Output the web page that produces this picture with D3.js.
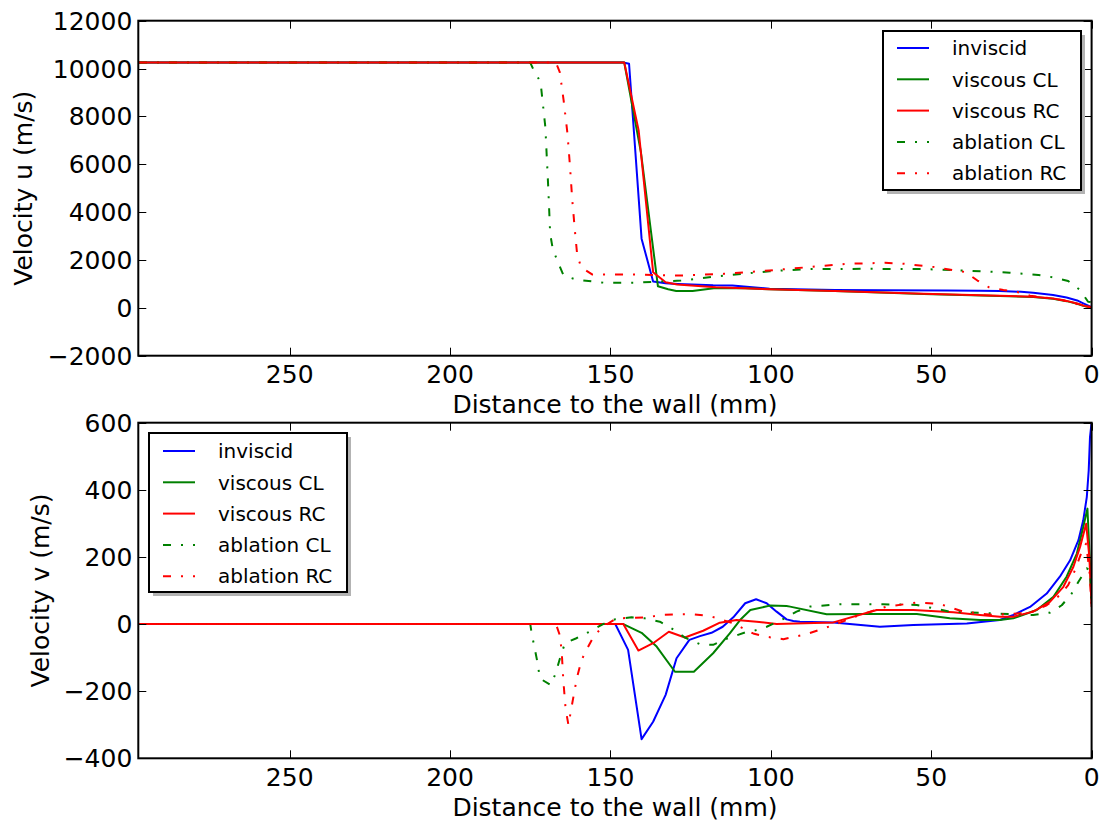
<!DOCTYPE html>
<html><head><meta charset="utf-8">
<script src="https://cdn.jsdelivr.net/npm/d3@7"></script>
<style>body{margin:0;background:#fff}svg{display:block}text{font-family:"DejaVu Sans",sans-serif;fill:#000}</style>
</head><body>
<svg id="c" width="1103" height="821"></svg>
<script>
// ---------- data ----------
const seriesNames = ["inviscid","viscous CL","viscous RC","ablation CL","ablation RC"];
const seriesColors = ["#0000ff","#008000","#ff0000","#008000","#ff0000"];
const seriesDashed = [false,false,false,true,true];
const xTicks = [250,200,150,100,50,0];
const uTicks = [-2000,0,2000,4000,6000,8000,10000,12000];
const vTicks = [-400,-200,0,200,400,600];

// top panel: velocity u (distance mm, m/s)
const uInviscid = [[297,10250],[146,10250],[144.2,10200],[140.3,2890],[136.7,1100],[132.8,1030],[129,1000],[118,940],[112,930],[100.4,800],[80,750],[64.4,735],[45,728],[35,718],[28.6,704],[22,670],[18.2,630],[12,540],[7.8,430],[4.5,310],[2.6,190],[0,30]];
const uViscousCL = [[297,10250],[145.7,10250],[140.5,6500],[135.2,900],[132,780],[129.5,700],[124.4,700],[117.2,830],[108,820],[100.4,780],[80,700],[52.4,580],[28.6,500],[18.2,455],[12,380],[7.8,280],[4.5,170],[2.6,90],[0,0]];
const uViscousRC = [[297,10250],[145.7,10250],[141.2,7400],[136.7,1490],[132.8,1070],[129.2,980],[117.2,860],[100.4,780],[80,700],[52.4,590],[28.6,507],[18.2,466],[12,390],[7.8,290],[4.5,180],[2.6,95],[0,0]];
const uAblationCL = [[297,10250],[175,10250],[173.9,9920],[171.8,9440],[170.3,7550],[169.4,5050],[168.8,3100],[168,2470],[166.4,1910],[164.6,1350],[160.4,1170],[152,1050],[142.4,1050],[128,1140],[117.2,1310],[100.4,1530],[88.4,1620],[70.4,1630],[52.4,1620],[40.4,1560],[28.4,1490],[25.5,1470],[16.6,1373],[12,1276],[7.3,1122],[3.6,746],[1.1,257],[0,240]];
const uAblationRC = [[297,10250],[167,10250],[165.8,9850],[164.6,8670],[163.4,7280],[162.6,5880],[161.9,4490],[161,3100],[160.4,2260],[159.2,1700],[155.6,1390],[142.4,1390],[128,1350],[114.8,1420],[100.4,1560],[88.4,1700],[76.4,1840],[64.4,1880],[58.4,1840],[48.8,1700],[39.2,1490],[35.6,1140],[32,860],[27.5,746],[22.9,650],[19.2,507],[9,330],[3.6,119],[0,30]];

// bottom panel: velocity v (distance mm, m/s)
const vInviscid = [[297,0],[148.5,0],[144.5,-77],[140.3,-343],[136.7,-291],[132.8,-211],[129.4,-102],[125.4,-47],[122.1,-36],[118.5,-26],[115,-8],[111.7,20],[108,62],[104.6,74],[101.3,62],[98.2,37],[95.1,14],[93,9],[90.9,7],[80.5,5],[66,-8],[55.6,-3],[38.9,2],[28.6,12],[24.4,27],[19.2,51],[14,91],[9.9,141],[6.7,190],[4.1,250],[2.6,309],[1.5,378],[0.9,458],[0.5,557],[0,600]];
const vViscousCL = [[297,0],[146,0],[140.3,-26],[135.6,-67],[129.9,-142],[124,-142],[118,-87],[112.8,-28],[109.6,12],[106.4,42],[100.3,55],[95.1,54],[94,52],[82.6,29],[70.1,30],[54.5,30],[44.2,17],[34.8,12],[28.6,12],[24.4,17],[17.1,42],[11.9,81],[7.8,141],[4.6,210],[2.6,289],[1.3,344],[0.6,200],[0,71]];
const vViscousRC = [[297,0],[146,0],[141.3,-79],[136.7,-57],[131.8,-23],[126.8,-40],[121.1,-20],[115.9,4],[110.7,12],[104.4,7],[98.2,0],[80.5,5],[67,42],[55.6,42],[43.1,35],[34.8,27],[28.6,22],[24.4,22],[18.2,37],[13,66],[8.8,111],[5.7,170],[3.6,230],[1.7,299],[0.7,200],[0,51]];
const vAblationCL = [[297,0],[175,0],[174.6,-26],[172.8,-112],[172,-162],[168.6,-182],[167.1,-147],[165.8,-104],[164.2,-57],[160.8,-43],[156.6,-23],[152.3,0],[148.6,14],[143.4,20],[139.3,17],[134.6,7],[130.4,-16],[126.8,-40],[122.1,-60],[118,-62],[113.8,-44],[107.5,-23],[105.5,-21],[101.3,-8],[96.1,15],[92,37],[87.8,52],[78.5,59],[65,59],[54.5,57],[44.2,37],[31.7,32],[18.2,27],[13,34],[9.3,56],[6.2,91],[4.1,126],[1.5,166],[0.5,160],[0,60]];
const vAblationRC = [[297,0],[167,0],[165.8,-33],[165.2,-82],[164.7,-167],[164,-251],[163.1,-301],[162.1,-246],[160.5,-162],[159,-107],[157.2,-72],[155,-33],[152.3,-8],[148.1,17],[138.7,20],[134,27],[129.4,29],[124.2,29],[119,24],[111.7,2],[105.5,-28],[101.3,-38],[96.1,-45],[88.8,-30],[80.5,-3],[72.2,27],[63.9,52],[54.5,64],[47.3,60],[40,37],[30.7,27],[19.2,34],[14,56],[9.9,86],[7.3,116],[5.2,160],[3.1,215],[1.7,240],[0.6,150],[0,50]];

const uSeries = [uInviscid,uViscousCL,uViscousRC,uAblationCL,uAblationRC];
const vSeries = [vInviscid,vViscousCL,vViscousRC,vAblationCL,vAblationRC];

// ---------- drawing ----------
const svg = d3.select("#c");
const L = 138.3, R = 1091.6;
const panels = [
  {series:uSeries, yDom:[-2000,12000], top:20.7, bottom:355.7, yTicks:uTicks, ylabel:"Velocity u (m/s)", ylabX:23,
   legend:{x:883,y:31,w:198,h:159,lineX0:897,lineX1:929,textX:952,row0:48,rowStep:31.3}},
  {series:vSeries, yDom:[-400,600], top:422.7, bottom:758.3, yTicks:vTicks, ylabel:"Velocity v (m/s)", ylabX:40,
   legend:{x:149,y:433,w:198,h:159,lineX0:163,lineX1:195,textX:218,row0:451,rowStep:31.3}}
];
const fmt = v => (v<0 ? "\u2212" + Math.abs(v) : String(v));

panels.forEach((p,pi)=>{
  const x = d3.scaleLinear().domain([297.2,0]).range([L,R]);
  const y = d3.scaleLinear().domain(p.yDom).range([p.bottom,p.top]);
  const g = svg.append("g");
  const cid = "clip"+pi;
  svg.append("defs").append("clipPath").attr("id",cid).append("rect")
    .attr("x",L).attr("y",p.top).attr("width",R-L).attr("height",p.bottom-p.top);
  const line = d3.line().x(d=>x(d[0])).y(d=>y(d[1]));
  const lg = g.append("g").attr("clip-path",`url(#${cid})`);
  p.series.forEach((s,i)=>{
    lg.append("path").attr("d",line(s)).attr("fill","none")
      .attr("stroke",seriesColors[i]).attr("stroke-width",2)
      .attr("stroke-dasharray",seriesDashed[i]?"8,10,2,10":null)
      .attr("stroke-linejoin","round");
  });
  // ticks (inward on all sides)
  const tk = g.append("g").attr("stroke","#000").attr("stroke-width",1);
  xTicks.forEach(t=>{
    const xx = Math.round(x(t))+0.5;
    tk.append("line").attr("x1",xx).attr("x2",xx).attr("y1",p.bottom).attr("y2",p.bottom-8);
    tk.append("line").attr("x1",xx).attr("x2",xx).attr("y1",p.top).attr("y2",p.top+8);
    g.append("text").attr("x",x(t)).attr("y",p.bottom+27.5).attr("text-anchor","middle")
      .style("font-size","25px").text(fmt(t));
  });
  p.yTicks.forEach(t=>{
    const yy = Math.round(y(t))+0.5;
    tk.append("line").attr("x1",L).attr("x2",L+8).attr("y1",yy).attr("y2",yy);
    tk.append("line").attr("x1",R).attr("x2",R-8).attr("y1",yy).attr("y2",yy);
    g.append("text").attr("x",L-6).attr("y",y(t)).attr("dy","0.36em").attr("text-anchor","end")
      .style("font-size","25px").text(fmt(t));
  });
  // frame
  g.append("rect").attr("x",L).attr("y",p.top).attr("width",R-L).attr("height",p.bottom-p.top)
    .attr("fill","none").attr("stroke","#000").attr("stroke-width",2);
  // labels
  g.append("text").attr("x",(L+R)/2).attr("y",p.bottom+57.5).attr("text-anchor","middle")
    .style("font-size","25px").text("Distance to the wall (mm)");
  g.append("text").attr("transform",`translate(${p.ylabX},${(p.top+p.bottom)/2}) rotate(-90)`)
    .attr("text-anchor","middle").attr("dy","0.36em").style("font-size","25px").text(p.ylabel);
  // legend
  const lgd = p.legend;
  g.append("rect").attr("x",lgd.x+4).attr("y",lgd.y+4).attr("width",lgd.w).attr("height",lgd.h).attr("fill","#b3b3b3");
  g.append("rect").attr("x",lgd.x).attr("y",lgd.y).attr("width",lgd.w).attr("height",lgd.h)
    .attr("fill","#fff").attr("stroke","#000").attr("stroke-width",2);
  seriesNames.forEach((n,i)=>{
    const ry = lgd.row0 + i*lgd.rowStep;
    g.append("line").attr("x1",lgd.lineX0).attr("x2",lgd.lineX1).attr("y1",ry).attr("y2",ry)
      .attr("stroke",seriesColors[i]).attr("stroke-width",2)
      .attr("stroke-dasharray",seriesDashed[i]?"8,10,2,10":null);
    g.append("text").attr("x",lgd.textX).attr("y",ry).attr("dy","0.36em").style("font-size","20px").text(n);
  });
});
</script>
</body></html>
